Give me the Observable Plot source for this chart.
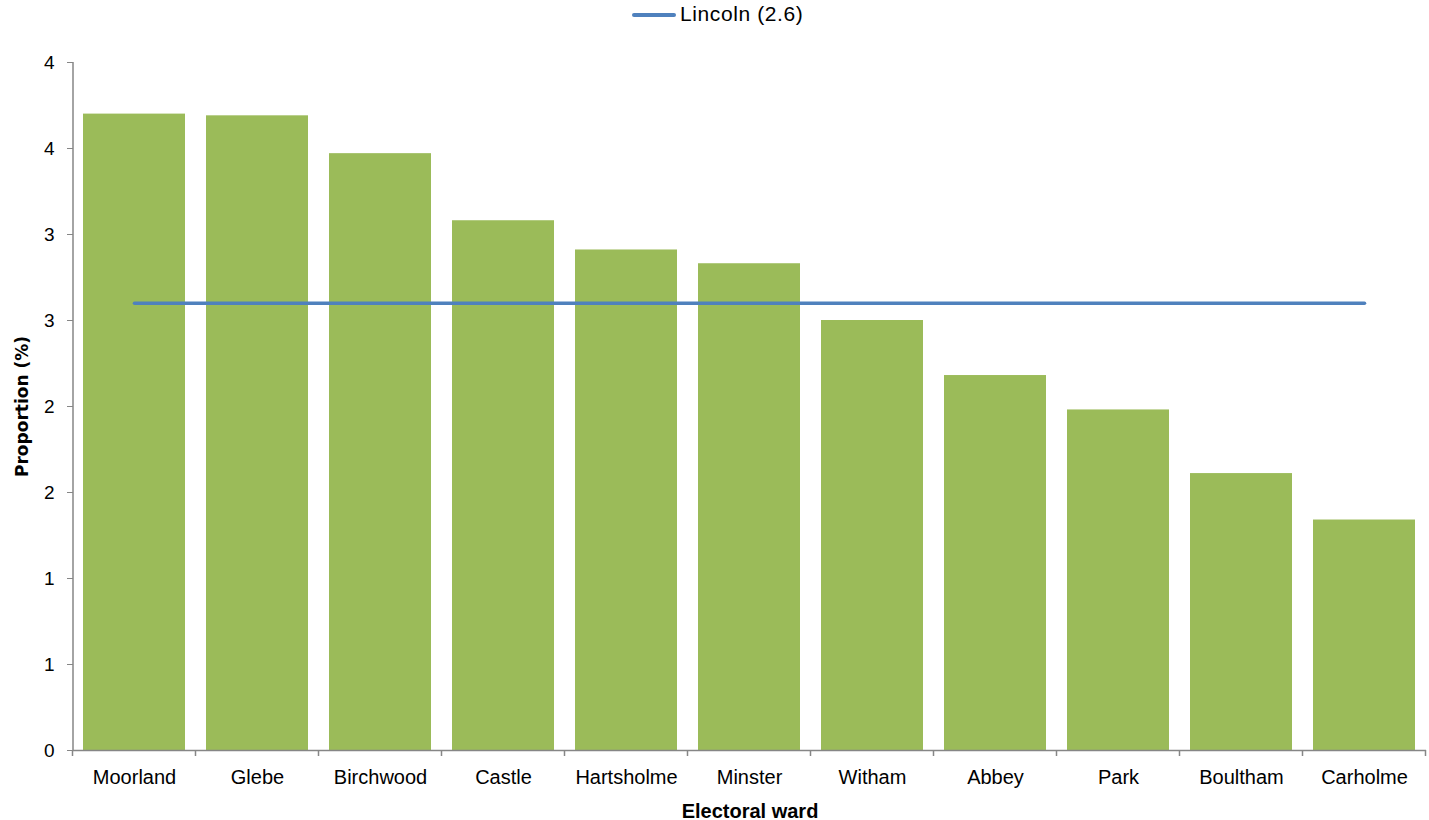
<!DOCTYPE html>
<html>
<head>
<meta charset="utf-8">
<script src="https://cdn.jsdelivr.net/npm/d3@7"></script>
<script src="https://cdn.jsdelivr.net/npm/@observablehq/plot@0.6"></script>
<style>
  html, body { margin: 0; padding: 0; background: #fff; }
  body { width: 1429px; height: 820px; overflow: hidden; font-family: "Liberation Sans", Arial, sans-serif; }
  #legend { position: relative; height: 40px; width: 1429px; }
  #legend .swatch { position: absolute; left: 632px; top: 13px; width: 44px; height: 4px; background: #4F81BD; border-radius: 2px; }
  #legend .label { position: absolute; left: 680px; top: 2px; font-size: 21px; letter-spacing: 0.6px; color: #000; }
  svg { display: block; }
</style>
</head>
<body>
<div id="legend"><div class="swatch"></div><div class="label" id="legendLabel"></div></div>
<div id="chart"></div>
<script>
const wards = ["Moorland", "Glebe", "Birchwood", "Castle", "Hartsholme", "Minster", "Witham", "Abbey", "Park", "Boultham", "Carholme"];
const proportions = [3.70, 3.69, 3.47, 3.08, 2.91, 2.83, 2.50, 2.18, 1.98, 1.61, 1.34];
const lincolnValue = 2.6;
const lincolnName = "Lincoln (2.6)";
const yTicks = [0, 0.5, 1, 1.5, 2, 2.5, 3, 3.5, 4];
const yTickLabels = ["0", "1", "1", "2", "2", "3", "3", "4", "4"];
const xTitle = "Electoral ward";
const yTitle = "Proportion (%)";

document.getElementById("legendLabel").textContent = lincolnName;

const data = wards.map((w, i) => ({ward: w, value: proportions[i]}));
const axisGray = "#868686";
const paddingInner = 0.17;

function boundaryAxis(index, scales, values, dims) {
  const x = scales.x, y = scales.y;
  const step = x(wards[1]) - x(wards[0]);
  const bw = typeof x.bandwidth === "function" ? x.bandwidth() : (x.bandwidth ?? step * (1 - paddingInner));
  const gap = (step - bw) / 2;
  const y0 = y(0);
  const g = d3.create("svg:g").attr("stroke", axisGray).attr("stroke-width", 1.5);
  const xs = wards.map(w => x(w) - gap);
  xs.push(x(wards[wards.length - 1]) + bw + gap);
  for (const xv of xs) {
    g.append("line").attr("x1", xv).attr("x2", xv).attr("y1", y0).attr("y2", y0 + 6);
  }
  g.append("line").attr("x1", dims.marginLeft).attr("x2", dims.marginLeft)
    .attr("y1", dims.marginTop).attr("y2", y0);
  return g.node();
}

const chart = Plot.plot({
  width: 1429,
  height: 780,
  marginTop: 22,
  marginBottom: 70,
  marginLeft: 73,
  marginRight: 3,
  style: {fontFamily: "'Liberation Sans', Arial, sans-serif", fontSize: "19px", color: "#000", background: "#fff"},
  x: {domain: wards, paddingInner: paddingInner, paddingOuter: paddingInner / 2, label: null},
  y: {domain: [0, 4], label: null},
  marks: [
    Plot.barY(data, {x: "ward", y: "value", fill: "#9BBB59"}),
    Plot.ruleY([0], {stroke: axisGray, strokeWidth: 1.5}),
    Plot.lineY(data, {x: "ward", y: () => lincolnValue, stroke: "#4F81BD", strokeWidth: 3.5}),
    Plot.axisY({ticks: yTicks, tickFormat: (d, i) => yTickLabels[yTicks.indexOf(d)], tickSize: 6, tickPadding: 13, stroke: axisGray, fill: "#000", fontSize: 19, label: null}),
    Plot.axisX({tickSize: 0, tickPadding: 19, fontSize: 20, fill: "#000", label: null}),
    boundaryAxis,
    Plot.text([xTitle], {text: d => d, frameAnchor: "bottom", dy: 67, fontWeight: "bold", fontSize: 20}),
    Plot.text([yTitle], {text: d => d, frameAnchor: "left", textAnchor: "middle", dx: -51, rotate: -90, fontWeight: "bold", fontSize: 17, fontFamily: "'DejaVu Sans', sans-serif"})
  ]
});
document.getElementById("chart").appendChild(chart);
</script>
</body>
</html>
